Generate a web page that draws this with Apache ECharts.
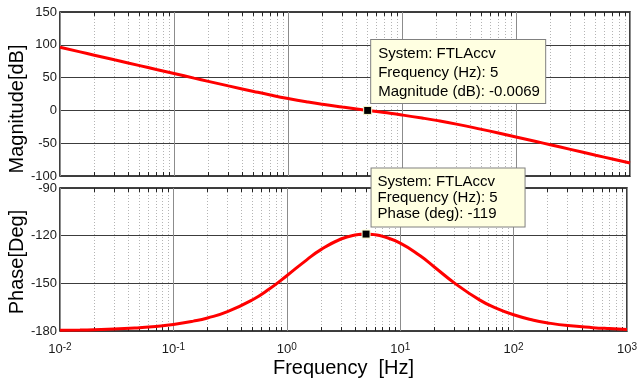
<!DOCTYPE html>
<html>
<head>
<meta charset="utf-8">
<script src="https://cdn.jsdelivr.net/npm/echarts@6.0.0/dist/echarts.min.js"></script>
<style>
  html, body { margin: 0; padding: 0; background: #fff; }
  #main { width: 640px; height: 383px; }
</style>
</head>
<body>
<div id="main"></div>
<script>
// frequency response
const freq = [0.01, 0.015, 0.02, 0.03, 0.05, 0.07, 0.1, 0.15, 0.2, 0.3, 0.5, 0.7, 1, 1.5, 2, 3, 4, 5, 6, 7, 10, 15, 20, 30, 50, 70, 100, 150, 200, 300, 500, 700, 1000]
const magDb = [96.2, 89.2, 84.2, 77.1, 68.3, 62.4, 56.2, 49.2, 44.3, 37.4, 28.9, 23.5, 18.2, 12.8, 9.4, 5.1, 2.2, 0, -1.8, -3.3, -7.0, -11.6, -15.2, -20.9, -28.9, -34.4, -40.5, -47.4, -52.4, -59.4, -68.3, -74.1, -80.3]
const phaseDeg = [-179.6, -179.4, -179.2, -178.8, -177.9, -177.1, -175.9, -173.8, -171.8, -167.8, -160.3, -153.6, -145.2, -135.2, -128.8, -122.1, -119.6, -119.0, -119.4, -120.4, -124.7, -132.7, -139.7, -149.7, -160.4, -165.6, -169.8, -173.2, -174.9, -176.6, -177.9, -178.5, -179.0]

// data tips
const tipSystem = 'FTLAccv'
const tipFreq = 5
const tipMag = -0.0069
const tipPhase = -119

// axis ranges
const magRange = [-100, 150, 50]
const phaseRange = [-180, -90, 30]
const decades = [0.01, 0.1, 1, 10, 100]

const FONT = '"Liberation Sans", Arial, Helvetica, sans-serif'
const minors = []
decades.forEach(d => { for (let m = 2; m <= 9; m++) minors.push(m * d) })

function minorLines(yLo, yHi, tickLen) {
  const data = []
  minors.forEach(v => {
    data.push({ xAxis: v, lineStyle: { color: '#b4b4b4', type: [1, 2], width: 1 } })
    data.push([{ coord: [v, yLo] }, { coord: [v, yLo + tickLen], lineStyle: { color: '#222', type: 'solid', width: 1 } }])
    data.push([{ coord: [v, yHi] }, { coord: [v, yHi - tickLen], lineStyle: { color: '#222', type: 'solid', width: 1 } }])
  })
  return {
    silent: true,
    z: 1,
    symbol: ['none', 'none'],
    label: { show: false },
    emphasis: { disabled: true },
    animation: false,
    data: data
  }
}

function tip(coord, lines, pos, width, lineHeight, padding) {
  return {
    silent: true,
    z: 6,
    symbol: 'rect',
    symbolSize: 8,
    itemStyle: { color: '#000', borderColor: '#ffffd0', borderWidth: 1 },
    emphasis: { disabled: true },
    label: {
      show: true,
      position: pos,
      formatter: lines.join('\n'),
      color: '#000',
      fontSize: 15,
      fontFamily: FONT,
      lineHeight: lineHeight,
      align: 'left',
      width: width,
      backgroundColor: '#ffffe1',
      borderColor: '#808080',
      borderWidth: 1,
      padding: padding
    },
    data: [{ coord: coord }]
  }
}

const xBase = {
  type: 'log',
  logBase: 10,
  min: 0.01,
  max: 1000,
  splitNumber: 5,
  axisLine: { show: false },
  axisTick: { show: false },
  splitLine: { show: true, lineStyle: { color: '#8c8c8c', width: 1 } }
}

const yBase = {
  type: 'value',
  axisLine: { show: false },
  axisTick: { show: false },
  splitLine: { show: true, lineStyle: { color: '#3c3c3c', width: 1 } },
  axisLabel: { margin: 3, fontSize: 13, color: '#1a1a1a', fontFamily: FONT }
}

const chart = echarts.init(document.getElementById('main'))
chart.setOption({
  animation: false,
  backgroundColor: '#fff',
  grid: [
    { left: 60, top: 12, width: 570, height: 164, show: true, borderColor: '#000', borderWidth: 1.5 },
    { left: 60, top: 188, width: 570, height: 143, show: true, borderColor: '#000', borderWidth: 1.5 }
  ],
  xAxis: [
    Object.assign({}, xBase, { gridIndex: 0, axisLabel: { show: false } }),
    Object.assign({}, xBase, {
      gridIndex: 1,
      name: 'Frequency  [Hz]',
      nameLocation: 'middle',
      nameGap: 27,
      nameTextStyle: { fontSize: 20, color: '#000', fontFamily: FONT },
      axisLabel: {
        margin: 11,
        formatter: v => '{b|10}{s|' + Math.round(Math.log10(v)) + '}',
        rich: {
          b: { fontSize: 13, color: '#1a1a1a', fontFamily: FONT },
          s: { fontSize: 10, color: '#1a1a1a', fontFamily: FONT, padding: [0, 0, 5, 0] }
        }
      }
    })
  ],
  yAxis: [
    Object.assign({}, yBase, { gridIndex: 0, min: magRange[0], max: magRange[1], interval: magRange[2] }),
    Object.assign({}, yBase, { gridIndex: 1, min: phaseRange[0], max: phaseRange[1], interval: phaseRange[2] })
  ],
  graphic: [
    { type: 'text', x: 17, y: 109, rotation: Math.PI / 2, style: { text: 'Magnitude[dB]', fontSize: 20, fontFamily: FONT, fill: '#000', align: 'center', verticalAlign: 'middle' } },
    { type: 'text', x: 17, y: 262, rotation: Math.PI / 2, style: { text: 'Phase[Deg]', fontSize: 20, fontFamily: FONT, fill: '#000', align: 'center', verticalAlign: 'middle' } }
  ],
  series: [
    {
      name: 'Magnitude',
      type: 'line',
      xAxisIndex: 0,
      yAxisIndex: 0,
      data: freq.map((f, i) => [f, magDb[i]]),
      showSymbol: false,
      smooth: true,
      lineStyle: { color: '#ff0000', width: 3 },
      z: 3,
      markLine: minorLines(magRange[0], magRange[1], 6),
      markPoint: tip([tipFreq, tipMag],
        ['System: ' + tipSystem, 'Frequency (Hz): ' + tipFreq, 'Magnitude (dB): ' + tipMag],
        [8, -66], 167, 19, [4, 0, 2, 7])
    },
    {
      name: 'Phase',
      type: 'line',
      xAxisIndex: 1,
      yAxisIndex: 1,
      data: freq.map((f, i) => [f, phaseDeg[i]]),
      showSymbol: false,
      smooth: true,
      lineStyle: { color: '#ff0000', width: 3 },
      z: 3,
      markLine: minorLines(phaseRange[0], phaseRange[1], 2.5),
      markPoint: tip([tipFreq, tipPhase],
        ['System: ' + tipSystem, 'Frequency (Hz): ' + tipFreq, 'Phase (deg): ' + tipPhase],
        [10, -61], 147, 16, [5, 0, 5, 6])
    }
  ]
})
</script>
</body>
</html>
